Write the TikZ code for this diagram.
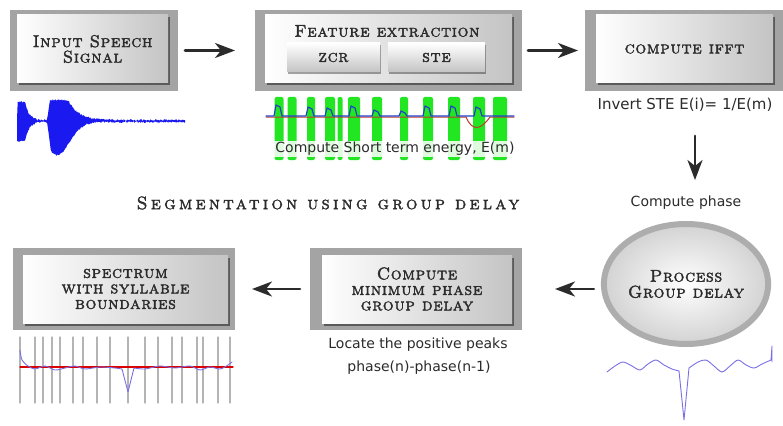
\documentclass[tikz,border=0pt]{standalone}
\usepackage{fontspec}
\usepackage{tikz}
\usetikzlibrary{arrows.meta,positioning,calc,shapes.geometric,shadows}
\newfontfamily\capsfont[FakeBold=2,LetterSpace=4]{lmromancaps10-regular.otf}
\newfontfamily\titlefont[FakeBold=1.8,LetterSpace=18]{lmromancaps10-regular.otf}
\newfontfamily\labelfont{DejaVu Sans}
\definecolor{ink}{HTML}{2B2B2B}
\definecolor{framegray}{HTML}{A4A4A4}
\definecolor{panelgray}{HTML}{C4C4C4}
\definecolor{speechblue}{HTML}{1A1AF0}
\definecolor{featgreen}{HTML}{22E622}
\definecolor{featblue}{HTML}{2440C8}
\definecolor{featred}{HTML}{C0392B}
\definecolor{delayblue}{HTML}{7A70E6}
\definecolor{bargray}{HTML}{B4B4B4}
\tikzset{
    every picture/.style={line cap=round,line join=round},
    outerframe/.style={fill=framegray,inner sep=0pt,outer sep=0pt},
    panel/.style={left color=white,right color=panelgray,inner sep=2pt,
      text=ink,align=center,font=\capsfont\fontsize{17}{15.5}\selectfont,
      drop shadow={shadow xshift=1.5pt,shadow yshift=-2.5pt,opacity=.45,fill=black}},
    button/.style={top color=white,bottom color=panelgray,inner sep=1pt,
      minimum width=93pt,minimum height=29pt,text=ink,
      font=\capsfont\fontsize{17}{15}\selectfont,
      drop shadow={shadow xshift=1.2pt,shadow yshift=-1.8pt,opacity=.35,fill=black}},
    ringnode/.style={ellipse,draw=framegray!90,line width=6pt,inner sep=0pt,
      inner color=white,outer color=gray!35,
      minimum width=156pt,minimum height=120pt,text=ink,align=center,
      font=\capsfont\fontsize{17}{16}\selectfont},
    labeltext/.style={text=ink,font=\labelfont\fontsize{14}{16}\selectfont,inner sep=2pt},
    titletext/.style={text=ink,font=\titlefont\fontsize{18}{20}\selectfont,inner sep=2pt},
    flowarrow/.style={-{Stealth[length=20pt,width=15pt,inset=6pt]},
      line width=2.6pt,draw=ink}
}

\begin{document}
\begin{tikzpicture}[x=1pt,y=-1pt]
  \useasboundingbox[fill=white] (0,0) rectangle (783,425);

  % top row
  \node[outerframe,minimum width=168,minimum height=81] (inbox) at (94,50.5) {};
  \node[panel,minimum width=151,minimum height=68] (inpanel) at (92.5,49) {Input Speech\\Signal};
  \node[outerframe,minimum width=267,minimum height=81] (featbox) at (388.5,50.5) {};
  \node[panel,minimum width=247,minimum height=68] (featpanel) at (388.5,49) {};
  \node[text=ink,font=\capsfont\fontsize{17}{15}\selectfont] (feattitle) at (387,31) {Feature extraction};
  \node[button] (zcr) at (333.5,57.5) {zcr};
  \node[button,minimum width=97] (ste) at (436.5,57.5) {ste};
  \node[outerframe,minimum width=198,minimum height=81] (ifftbox) at (684,50.5) {};
  \node[panel,minimum width=177,minimum height=68] (ifftpanel) at (684.5,49) {compute ifft};

  % bottom row
  \node[ringnode] (procgd) at (686,284) {Process\\Group delay};
  \node[outerframe,minimum width=212,minimum height=82] (minbox) at (416,289) {};
  \node[panel,minimum width=190,minimum height=68] (minpanel) at (417,289) {Compute\\minimum phase\\group delay};
  \node[outerframe,minimum width=222,minimum height=82] (specbox) at (124,289) {};
  \node[panel,minimum width=205,minimum height=68] (specpanel) at (125.5,289) {spectrum\\with syllable\\boundaries};

  % texts
  \node[labeltext,font=\labelfont\fontsize{15}{17}\selectfont] (invertlbl) at (685,105) {Invert STE E(i)= 1/E(m)};
  \node[labeltext] (phaselbl) at (686,203) {Compute phase};
  \node[titletext] (segtitle) at (328,203) {Segmentation using group delay};
  \node[labeltext] (peakslbl) at (418,345) {Locate the positive peaks};
  \node[labeltext] (difflbl) at (419,368) {phase(n)-phase(n-1)};

  % input speech waveform
  \fill[speechblue] plot[domain=17:185,samples=240]
    (\x,{121-1-(\x>17)*(\x<36)*18*min(1,exp(-(\x-25)/4))
      -(\x>47)*20*min(1,(\x-47)/3)*min(1,exp(-(\x-68)/10))-0.9*rand})
    -- plot[domain=185:17,samples=240]
    (\x,{121+1+(\x>17)*(\x<36)*19*min(1,exp(-(\x-25)/4))
      +(\x>47)*(\x<120)*33*min(1,(\x-47)/4)*exp(-1*(((\x-57)/18)^2))+0.9*rand}) -- cycle;

  % short term energy waveform
  \foreach \gx/\gw in {279/9,292/9,311/8,330/10,340/5,354/12,377/10,404/8,428/10,454/12,479/12,500/14}
    \fill[featgreen,rounded corners=2pt] ({\gx-\gw/2},97) rectangle ({\gx+\gw/2},160);
  \draw[featred,line width=1pt] (266,117) -- (466,117)
    .. controls (472,131) and (480,131) .. (490,117) -- (514,117);
  \draw[featblue,line width=1.2pt] (266,116) \foreach \bx/\bh in {277/105,309/107,328/108,352/106,375/110,402/111,426/106,452/106,477/107}{
    -- ({\bx-3},116) -- ({\bx-1},\bh) -- ({\bx+3},{\bh+2}) -- ({\bx+5},116)} -- (514,116);
  \node[labeltext,fill=white,fill opacity=.85,text opacity=1,inner ysep=1pt] (energylbl) at (395,149) {Compute Short term energy, E(m)};

  % spectrum with boundaries
  \foreach \bx in {20,35,43,52,60,73,83,97,110,128,145,158,172,182,197,203,218,230}
    \draw[bargray,line width=1.2pt] (\bx,337) -- (\bx,403);
  \draw[red!85!black,line width=1.2pt] (20,367) -- (233,367);
  \draw[delayblue,line width=0.9pt] plot[smooth] coordinates {(20,350) (22,360) (28,366)
    (35,369) (45,366) (55,370) (65,368) (75,366) (85,369) (100,367) (115,368) (122,369)}
    -- (128,392) -- (134,368) plot[smooth] coordinates {(134,368) (145,369) (160,366)
    (175,368) (190,366) (200,370) (210,367) (220,369) (228,365) (232,362)};

  % group delay curve
  \draw[delayblue,line width=0.9pt] plot[smooth] coordinates {(607,372) (615,366)
    (623,362) (632,366) (640,370) (648,364) (656,360) (664,365) (672,369) (679,371)}
    -- (684,420) -- (689,368) plot[smooth] coordinates {(689,368) (698,362) (706,360)
    (714,366) (722,372) (730,366) (738,360) (746,365) (754,368) (762,364) (771,360)}
    -- (772,346) -- (772,362);

  % flow arrows
  \draw[flowarrow,shorten <=7pt,shorten >=20pt] (inbox.east) -- (featbox.west);
  \draw[flowarrow,shorten <=6pt,shorten >=7pt] (featbox.east) -- (ifftbox.west);
  \draw[flowarrow,shorten <=22pt,shorten >=14pt] ([xshift=9pt]phaselbl.north |- invertlbl.south) -- ([xshift=9pt]phaselbl.north);
  \draw[flowarrow,shorten <=7pt,shorten >=33pt] (procgd.west |- minbox.east) -- (minbox.east);
  \draw[flowarrow,shorten <=10pt,shorten >=17pt] (minbox.west) -- (specbox.east);
\end{tikzpicture}
\end{document}
